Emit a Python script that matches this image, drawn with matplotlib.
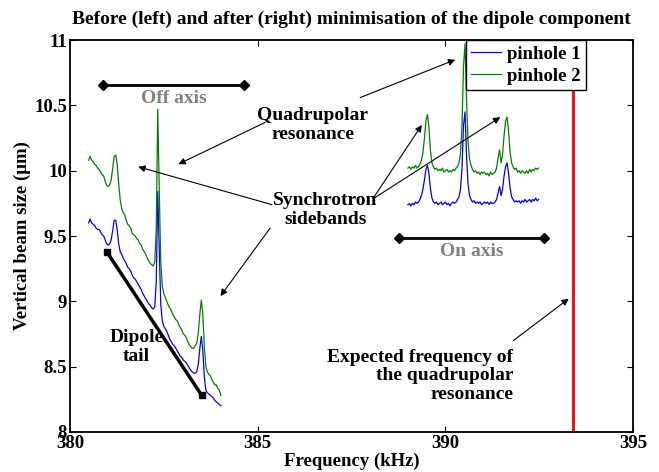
import numpy as np
import matplotlib
matplotlib.use("Agg")
import matplotlib.pyplot as plt

plt.rcParams['font.family'] = ['Liberation Serif', 'DejaVu Serif']
plt.rcParams['font.weight'] = 'bold'
plt.rcParams['axes.titleweight'] = 'bold'
plt.rcParams['axes.labelweight'] = 'bold'

# before minimisation (off axis), 0.04 kHz steps from 380.50 kHz
left_start = 380.50
left_ph2 = [10.08, 10.11, 10.08, 10.07, 10.05, 10.04, 10.02, 10.01, 9.99, 9.97,
            9.96, 9.92, 9.89, 9.88, 9.89, 9.93, 10.02, 10.11, 10.12, 10.05,
            9.90, 9.78, 9.71, 9.68, 9.66, 9.62, 9.59, 9.58, 9.56, 9.52,
            9.51, 9.50, 9.48, 9.47, 9.44, 9.43, 9.40, 9.38, 9.36, 9.33,
            9.31, 9.29, 9.28, 9.27, 9.30, 9.55, 10.47, 9.85, 9.30, 9.12,
            9.06, 9.03, 9.00, 8.97, 8.95, 8.93, 8.90, 8.88, 8.86, 8.85,
            8.82, 8.80, 8.78, 8.75, 8.74, 8.72, 8.69, 8.67, 8.65, 8.64,
            8.64, 8.66, 8.68, 8.76, 8.90, 9.01, 8.90, 8.65, 8.50, 8.46,
            8.44, 8.43, 8.40, 8.38, 8.36, 8.36, 8.33, 8.32, 8.28]
left_ph1 = [9.60, 9.63, 9.60, 9.59, 9.58, 9.56, 9.55, 9.55, 9.53, 9.51,
            9.50, 9.47, 9.44, 9.43, 9.44, 9.47, 9.54, 9.62, 9.62, 9.55,
            9.44, 9.38, 9.36, 9.33, 9.31, 9.29, 9.26, 9.25, 9.23, 9.20,
            9.18, 9.17, 9.15, 9.13, 9.11, 9.09, 9.06, 9.04, 9.02, 9.00,
            8.98, 8.97, 8.95, 8.94, 8.96, 9.15, 9.84, 9.40, 8.98, 8.85,
            8.81, 8.79, 8.77, 8.74, 8.71, 8.69, 8.67, 8.66, 8.64, 8.62,
            8.60, 8.58, 8.57, 8.55, 8.54, 8.53, 8.51, 8.49, 8.47, 8.46,
            8.45, 8.45, 8.46, 8.52, 8.64, 8.73, 8.62, 8.42, 8.32, 8.30,
            8.29, 8.28, 8.27, 8.26, 8.24, 8.23, 8.22, 8.21, 8.20]

# after minimisation (on axis), 0.04 kHz steps from 389.00 kHz
right_start = 389.00
right_ph2 = [10.02, 10.03, 10.01, 10.03, 10.02, 10.04, 10.02, 10.03, 10.05, 10.08,
             10.14, 10.25, 10.38, 10.43, 10.33, 10.15, 10.06, 10.03, 10.01, 10.02,
             10.00, 10.01, 10.00, 10.02, 9.99, 10.00, 10.01, 9.99, 10.00, 9.99,
             10.01, 10.00, 10.02, 10.03, 10.06, 10.13, 10.35, 10.80, 10.97, 10.55,
             10.22, 10.09, 10.04, 10.01, 9.99, 10.00, 9.98, 9.99, 9.97, 9.99,
             9.98, 9.99, 9.97, 9.98, 9.96, 9.99, 9.97, 9.98, 9.99, 10.02,
             10.10, 10.16, 10.06, 10.13, 10.27, 10.38, 10.41, 10.30, 10.14, 10.06,
             10.03, 10.01, 10.02, 9.99, 10.00, 9.98, 10.00, 9.99, 9.98, 10.00,
             9.98, 10.01, 9.99, 10.01, 10.00, 10.02, 10.01, 10.02]
right_ph1 = [9.74, 9.75, 9.73, 9.75, 9.74, 9.76, 9.75, 9.76, 9.78, 9.81,
             9.86, 9.93, 10.01, 10.04, 9.98, 9.86, 9.79, 9.76, 9.75, 9.76,
             9.74, 9.75, 9.76, 9.74, 9.75, 9.76, 9.74, 9.75, 9.73, 9.75,
             9.76, 9.75, 9.76, 9.78, 9.80, 9.86, 10.02, 10.35, 10.45, 10.12,
             9.90, 9.81, 9.78, 9.76, 9.77, 9.75, 9.76, 9.75, 9.76, 9.74,
             9.75, 9.76, 9.75, 9.76, 9.74, 9.76, 9.75, 9.75, 9.76, 9.78,
             9.83, 9.88, 9.81, 9.86, 9.96, 10.03, 10.06, 9.98, 9.87, 9.80,
             9.78, 9.76, 9.77, 9.76, 9.77, 9.75, 9.77, 9.76, 9.78, 9.76,
             9.77, 9.78, 9.76, 9.78, 9.77, 9.79, 9.77, 9.78]

step = 0.04
expected_freq = 393.4
off_axis = [380.88, 384.64]
on_axis = [388.77, 392.61]
dipole_tail = ([380.98, 383.51], [9.38, 8.28])

x_left = left_start + step * np.arange(len(left_ph1))
x_right = right_start + step * np.arange(len(right_ph1))

fig = plt.figure(figsize=(6.59, 4.72), dpi=100)
ax = fig.add_axes([0.106, 0.085, 0.855, 0.83])

blue = (0, 0, 1)
green = (0, 0.5, 0)
l1, = ax.plot(x_left, left_ph1, color=blue, lw=0.9)
l2, = ax.plot(x_left, left_ph2, color=green, lw=0.9)
ax.plot(x_right, right_ph1, color=blue, lw=0.9)
ax.plot(x_right, right_ph2, color=green, lw=0.9)

ax.axvline(expected_freq, color='red', lw=2)

fs = 14
# off/on axis markers
ax.plot(off_axis, [10.66, 10.66], color='k', lw=2, marker='D', ms=5)
ax.text(np.mean(off_axis), 10.555, 'Off axis', color='0.5', ha='center', va='center', fontsize=fs)
ax.plot(on_axis, [9.483, 9.483], color='k', lw=2, marker='D', ms=5)
ax.text(np.mean(on_axis), 9.385, 'On axis', color='0.5', ha='center', va='center', fontsize=fs)

# dipole tail
ax.plot(dipole_tail[0], dipole_tail[1], color='k', lw=2.5, marker='s', ms=5)
ax.text(381.78, 8.65, 'Dipole\ntail', ha='center', va='center', fontsize=fs, linespacing=1.1)

arrow = dict(arrowstyle='-|>', color='k', lw=0.8, mutation_scale=10, shrinkA=0, shrinkB=0)

ax.text(386.47, 10.35, 'Quadrupolar\nresonance', ha='center', va='center', fontsize=fs, linespacing=1.15)
ax.annotate('', xy=(390.26, 10.85), xytext=(387.73, 10.56), arrowprops=arrow)
ax.annotate('', xy=(382.89, 10.05), xytext=(385.2, 10.37), arrowprops=arrow)

ax.text(386.8, 9.70, 'Synchrotron\nsidebands', ha='center', va='center', fontsize=fs, linespacing=1.15)
ax.annotate('', xy=(381.82, 10.03), xytext=(385.38, 9.74), arrowprops=arrow)
ax.annotate('', xy=(384.01, 9.04), xytext=(385.33, 9.56), arrowprops=arrow)
ax.annotate('', xy=(389.37, 10.35), xytext=(388.1, 9.80), arrowprops=arrow)
ax.annotate('', xy=(391.46, 10.41), xytext=(388.1, 9.79), arrowprops=arrow)

ax.text(391.81, 8.43, 'Expected frequency of\nthe quadrupolar\nresonance', ha='right', va='center',
        fontsize=fs, linespacing=1.1)
ax.annotate('', xy=(393.28, 9.02), xytext=(391.81, 8.70), arrowprops=arrow)

ax.set_xlim(380, 395)
ax.set_ylim(8, 11)
ax.set_xticks([380, 385, 390, 395])
ax.set_yticks([8, 8.5, 9, 9.5, 10, 10.5, 11])
ax.set_yticklabels(['8', '8.5', '9', '9.5', '10', '10.5', '11'])
ax.tick_params(direction='in', top=True, right=True, labelsize=13.5, pad=2, length=4)
for s in ax.spines.values():
    s.set_linewidth(1.3)

ax.set_xlabel('Frequency (kHz)', fontsize=13.5, labelpad=1)
ax.set_ylabel('Vertical beam size (μm)', fontsize=13.5, labelpad=2)
ax.set_title('Before (left) and after (right) minimisation of the dipole component', fontsize=14, pad=12)

leg = ax.legend([l1, l2], ['pinhole 1', 'pinhole 2'], loc='upper right',
                bbox_to_anchor=(0.9165, 1.0), borderaxespad=0, fontsize=13.5,
                fancybox=False, framealpha=1, edgecolor='k', handlelength=1.6,
                handletextpad=0.3, borderpad=0.3, labelspacing=0.25)
leg.get_frame().set_linewidth(1.0)

fig.savefig('out.png', dpi=100)
